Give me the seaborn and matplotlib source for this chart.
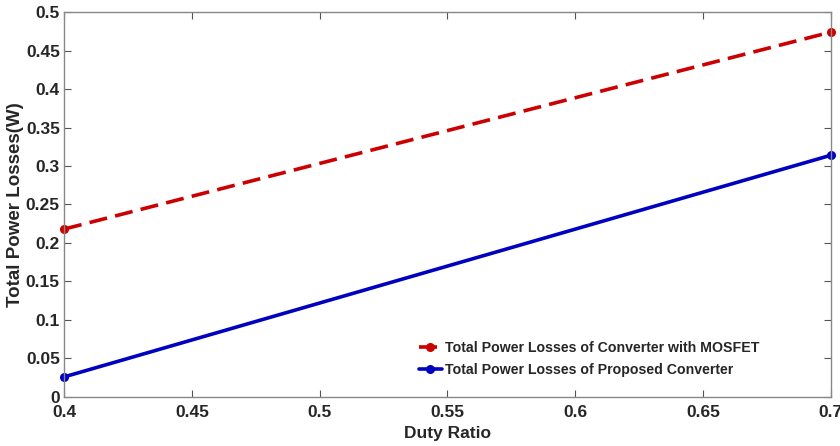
import pandas as pd
import matplotlib
matplotlib.use("Agg")
import matplotlib.pyplot as plt
import seaborn as sns

# --- DATA ---
duty_ratio = [0.4, 0.7]
loss_mosfet = [0.218, 0.474]
loss_proposed = [0.026, 0.314]
series_names = ['Total Power Losses of Converter with MOSFET',
                'Total Power Losses of Proposed Converter']

df = pd.DataFrame({
    'Duty Ratio': duty_ratio * 2,
    'Loss': loss_mosfet + loss_proposed,
    'Series': [series_names[0]] * len(duty_ratio) + [series_names[1]] * len(duty_ratio),
})

sns.set_theme(style="white")
plt.rcParams['font.family'] = ['Liberation Sans', 'DejaVu Sans']
plt.rcParams['font.weight'] = 'bold'

fig = plt.figure(figsize=(8.4, 4.46), dpi=100)
ax = fig.add_axes([0.0762, 0.110, 0.913, 0.863])

sns.lineplot(data=df, x='Duty Ratio', y='Loss', hue='Series', style='Series',
             palette=['#cc0000', '#0000c0'], dashes=[(5, 2.3), ''],
             markers=['o', 'o'], markersize=6.5, markeredgewidth=0,
             linewidth=2.6, ax=ax)
for ln in ax.lines:
    ln.set_clip_on(False)

ax.set_xlim(0.4, 0.7)
ax.set_ylim(0, 0.5)
ax.set_xticks([0.4, 0.45, 0.5, 0.55, 0.6, 0.65, 0.7])
ax.set_xticklabels(['0.4', '0.45', '0.5', '0.55', '0.6', '0.65', '0.7'])
ax.set_yticks([0, 0.05, 0.1, 0.15, 0.2, 0.25, 0.3, 0.35, 0.4, 0.45, 0.5])
ax.set_yticklabels(['0', '0.05', '0.1', '0.15', '0.2', '0.25', '0.3', '0.35', '0.4', '0.45', '0.5'])
ax.tick_params(direction='in', length=5, width=0.8, color='#555555', labelsize=12.5,
               top=True, right=True, bottom=True, left=True)
ax.tick_params(axis='y', pad=3)
ax.tick_params(axis='x', pad=6)
for lab in ax.get_xticklabels() + ax.get_yticklabels():
    lab.set_fontweight('bold')
for sp in ax.spines.values():
    sp.set_color('#888888')
    sp.set_linewidth(1)

ax.set_xlabel('Duty Ratio', fontsize=12.5, fontweight='bold', labelpad=4)
ax.set_ylabel('Total Power Losses(W)', fontsize=13.5, fontweight='bold', labelpad=1)

leg = ax.legend(loc='lower left', bbox_to_anchor=(0.45, 0.025), frameon=False,
                fontsize=10.2, handlelength=1.6, handletextpad=0.2,
                borderpad=0.2, labelspacing=0.6)
for t in leg.get_texts():
    t.set_fontweight('bold')

plt.savefig('out.png', dpi=100)
